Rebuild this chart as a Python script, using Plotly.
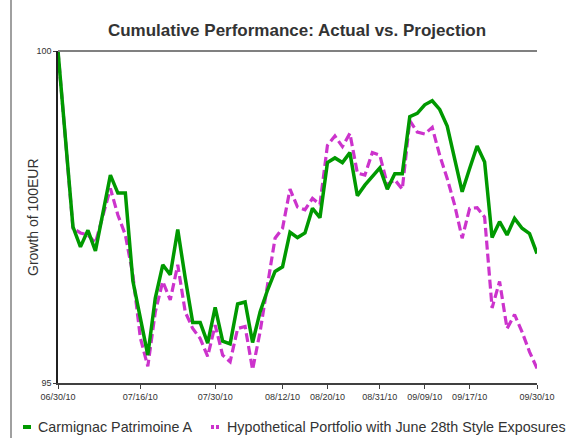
import plotly.graph_objects as go

dates = [
    "06/30/10",
    "07/01/10", "07/02/10", "07/06/10", "07/07/10", "07/08/10", "07/09/10",
    "07/12/10", "07/13/10", "07/14/10", "07/15/10", "07/16/10",
    "07/19/10", "07/20/10", "07/21/10", "07/22/10", "07/23/10",
    "07/26/10", "07/27/10", "07/28/10", "07/29/10", "07/30/10",
    "08/02/10", "08/03/10", "08/04/10", "08/05/10", "08/06/10",
    "08/09/10", "08/10/10", "08/11/10", "08/12/10", "08/13/10",
    "08/16/10", "08/17/10", "08/18/10", "08/19/10", "08/20/10",
    "08/23/10", "08/24/10", "08/25/10", "08/26/10", "08/27/10",
    "08/30/10", "08/31/10", "09/01/10", "09/02/10", "09/03/10",
    "09/07/10", "09/08/10", "09/09/10", "09/10/10",
    "09/13/10", "09/14/10", "09/15/10", "09/16/10", "09/17/10",
    "09/20/10", "09/21/10", "09/22/10", "09/23/10", "09/24/10",
    "09/27/10", "09/28/10", "09/29/10", "09/30/10",
]

carmignac = [
    100.00, 98.69, 97.35, 97.05, 97.30, 96.99, 97.56, 98.13, 97.86, 97.86,
    96.54, 95.98, 95.42, 96.28, 96.78, 96.63, 97.31, 96.58, 95.91, 95.91,
    95.60, 96.14, 95.63, 95.59, 96.19, 96.22, 95.61, 96.07, 96.40, 96.68,
    96.75, 97.27, 97.19, 97.26, 97.63, 97.49, 98.32, 98.39, 98.32, 98.47,
    97.82, 97.98, 98.12, 98.24, 97.92, 98.15, 98.15, 99.01, 99.06, 99.19,
    99.25, 99.12, 98.87, 98.38, 97.88, 98.23, 98.57, 98.33, 97.19, 97.43,
    97.23, 97.48, 97.33, 97.25, 96.95,
]

hypothetical = [
    100.00, 98.66, 97.33, 97.26, 97.23, 97.11, 97.53, 97.93, 97.53, 97.23,
    96.63, 95.68, 95.25, 96.07, 96.53, 96.25, 96.78, 96.07, 95.82, 95.67,
    95.40, 95.87, 95.42, 95.32, 95.82, 95.85, 95.20, 95.77, 96.48, 97.18,
    97.33, 97.92, 97.65, 97.61, 97.78, 97.69, 98.58, 98.72, 98.56, 98.76,
    98.16, 98.13, 98.47, 98.43, 97.99, 98.06, 97.92, 98.95, 98.78, 98.75,
    98.85, 98.43, 98.08, 97.68, 97.18, 97.63, 97.64, 97.50, 96.13, 96.53,
    95.82, 96.03, 95.77, 95.47, 95.22,
]

tick_dates = ["06/30/10", "07/16/10", "07/30/10", "08/12/10", "08/20/10",
              "08/31/10", "09/09/10", "09/17/10", "09/30/10"]
y_ticks = [95, 100]

series_names = ["Carmignac Patrimoine A",
                "Hypothetical Portfolio with June 28th Style Exposures"]
GREEN = "#009900"
MAGENTA = "#CC33CC"
FONT = "Liberation Sans, Arial, sans-serif"

W, H = 574, 438
L, R, T, B = 58, 37, 51, 55
PW, PH = W - L - R, H - T - B


def px(x):
    return (x - L) / PW


def py(y):
    return (H - B - y) / PH


fig = go.Figure()
fig.add_trace(go.Scatter(x=dates, y=hypothetical, mode="lines", name=series_names[1],
                         line=dict(color=MAGENTA, width=3.2, dash="9px,4px"),
                         showlegend=False))
fig.add_trace(go.Scatter(x=dates, y=carmignac, mode="lines", name=series_names[0],
                         line=dict(color=GREEN, width=3.5),
                         showlegend=False))

shapes = [
    # top border of plot
    dict(type="line", xref="paper", yref="paper", x0=0, x1=1, y0=1, y1=1,
         line=dict(color="#808080", width=2)),
    # outer frame left edge
    dict(type="line", xref="paper", yref="paper", x0=px(11), x1=px(11), y0=py(0), y1=py(438),
         line=dict(color="#A0A0A0", width=2)),
    # legend symbols
    dict(type="line", xref="paper", yref="paper", x0=px(23), x1=px(31), y0=py(427), y1=py(427),
         line=dict(color=GREEN, width=4)),
    dict(type="line", xref="paper", yref="paper", x0=px(211), x1=px(214), y0=py(427), y1=py(427),
         line=dict(color=MAGENTA, width=4)),
    dict(type="line", xref="paper", yref="paper", x0=px(216), x1=px(219), y0=py(427), y1=py(427),
         line=dict(color=MAGENTA, width=4)),
]

annotations = [
    dict(text="Growth of 100EUR", xref="paper", yref="paper", x=px(33), y=0.5,
         textangle=-90, showarrow=False, xanchor="center", yanchor="middle",
         font=dict(family=FONT, size=14, color="#333333")),
    dict(text=series_names[0], xref="paper", yref="paper", x=px(36), y=py(427),
         showarrow=False, xanchor="left", yanchor="middle",
         font=dict(family=FONT, size=14.3, color="#333333")),
    dict(text=series_names[1], xref="paper", yref="paper", x=px(225), y=py(427),
         showarrow=False, xanchor="left", yanchor="middle",
         font=dict(family=FONT, size=14.3, color="#333333")),
]

fig.update_layout(
    width=W, height=H,
    margin=dict(l=L, r=R, t=T, b=B),
    paper_bgcolor="white", plot_bgcolor="white",
    title=dict(text="<b>Cumulative Performance: Actual vs. Projection</b>",
               x=0.5175, xanchor="center", y=1 - 30 / H, yanchor="middle",
               font=dict(family=FONT, size=17, color="#333333")),
    showlegend=False,
    shapes=shapes,
    annotations=annotations,
    xaxis=dict(type="category", range=[0, len(dates) - 1],
               tickmode="array", tickvals=tick_dates, ticktext=tick_dates,
               showgrid=False, zeroline=False,
               showline=True, linecolor="#404040", linewidth=1.5,
               ticks="outside", ticklen=4, tickcolor="#404040",
               tickfont=dict(family=FONT, size=9, color="#333333")),
    yaxis=dict(range=[95, 100], tickvals=y_ticks, showgrid=False, zeroline=False,
               showline=True, linecolor="#202020", linewidth=1.5,
               ticks="outside", ticklen=3, tickcolor="#404040",
               tickfont=dict(family=FONT, size=9, color="#333333")),
)

fig.write_html("out.html",
               config={"displayModeBar": False},
               post_script="document.body.style.margin='0';document.body.style.overflow='hidden';")
